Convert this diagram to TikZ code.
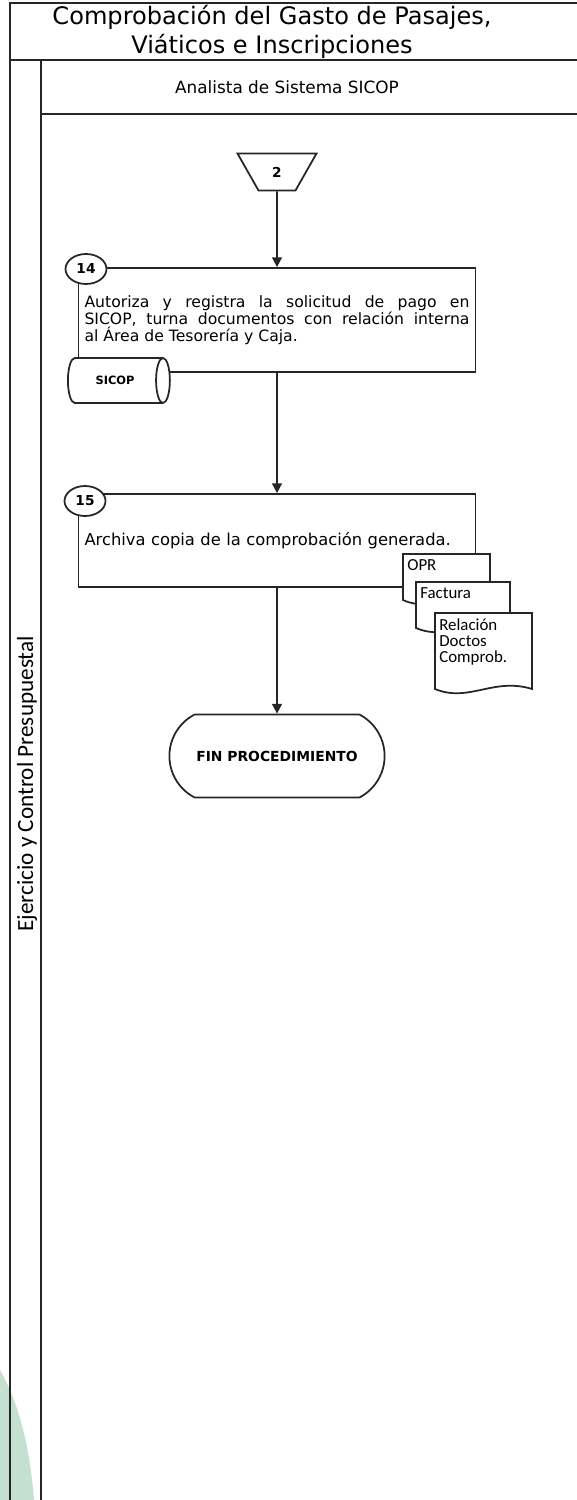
\documentclass[tikz,border=0pt]{standalone}
\usepackage{fontspec}
\setmainfont{Carlito}
\newfontfamily\tahoma{DejaVu Sans}
\usetikzlibrary{shapes.geometric,shapes.misc,positioning,arrows.meta}
\definecolor{marca}{RGB}{196,224,208}
\begin{document}
\begin{tikzpicture}[x=0.02cm,y=-0.02cm]
	\tikzset{linea/.style={draw=black!85,line width=1pt},
		caja/.style={linea,rectangle,minimum width=7.94cm,inner xsep=0.12cm,inner ysep=0pt},
		num/.style={linea,ellipse,fill=white,minimum width=0.82cm,minimum height=0.6cm,inner sep=0pt,font=\tahoma\bfseries\fontsize{7.8}{8}\selectfont},
		hoja/.style={linea,fill=white}}
	\useasboundingbox(0,0)rectangle(577,1500);
	%%marca de agua
	\fill[marca](0,1370)..controls(20,1405)and(30,1450)..(34,1500)--(0,1500)--cycle;
	%%marco
	\draw[linea](577,3)--(10,3)--(10,1500)(10,60)--(577,60)(41,60)--(41,1500)(41,114)--(577,114);
	\path(272,32)node[align=center,font=\tahoma\fontsize{13.7}{16.5}\selectfont](titulo){Comprobación del Gasto de Pasajes,\\Viáticos e Inscripciones}
	(287,87)node[font=\tahoma\fontsize{9.6}{10}\selectfont](puesto){Analista de Sistema SICOP}
	(27,784)node[rotate=90,font=\fontsize{13.2}{14}\selectfont](area){Ejercicio y Control Presupuestal};
	%%Nodos
	\path(277,172)node[linea,trapezium,shape border rotate=180,trapezium stretches=true,trapezium angle=62,minimum width=1.58cm,minimum height=0.74cm,inner sep=0pt,font=\tahoma\bfseries\fontsize{7.8}{8}\selectfont](c2){2}
	(277,320)node[caja,minimum height=2.08cm,text width=7.7cm,align=justify,font=\tahoma\fontsize{8.9}{9.8}\selectfont](p14){Autoriza y registra la solicitud de pago en\linebreak SICOP, turna documentos con relación interna\linebreak al Área de Tesorería y Caja.}
	(277,540.5)node[caja,minimum height=1.86cm,text width=7.7cm,align=left,font=\tahoma\fontsize{9.3}{9.8}\selectfont](p15){Archiva copia de la comprobación generada.}
	(277,756)node[linea,rounded rectangle,rounded rectangle arc length=125,minimum width=4.54cm,minimum height=1.66cm,font=\tahoma\bfseries\fontsize{7.9}{8}\selectfont](fin){FIN PROCEDIMIENTO};
	\path(86,269)node[num](n14){14}(85,501)node[num](n15){15};
	\path(115,380.5)node[linea,cylinder,fill=white,aspect=1.6,minimum width=0.9cm,minimum height=2.04cm,inner sep=0pt,font=\tahoma\bfseries\fontsize{6.5}{7}\selectfont](sicop){SICOP};
	%%documentos
	\foreach \n/\x/\y/\w/\h/\t in {opr/403/554/87/46/OPR,factura/416/582/94/46/Factura,relacion/435/613/97/76/{Relación\\Doctos\\Comprob.}}{
		\draw[hoja](\x,\y)--++(\w,0)--++(0,\h)..controls++(-0.4*\w,-12)and++(0.35*\w,14)..(\x,\y+\h)--cycle;
		\path(\x+4,\y+5)node[anchor=north west,inner sep=0pt,align=left,font=\fontsize{9.6}{9.3}\selectfont](\n){\t};
	}
	\foreach \x/\y in {c2/p14,p14/p15,p15/fin}
	\draw[linea,-{Triangle[length=5.5pt,width=5.5pt]}](\x)--(\y);
\end{tikzpicture}
\end{document}
